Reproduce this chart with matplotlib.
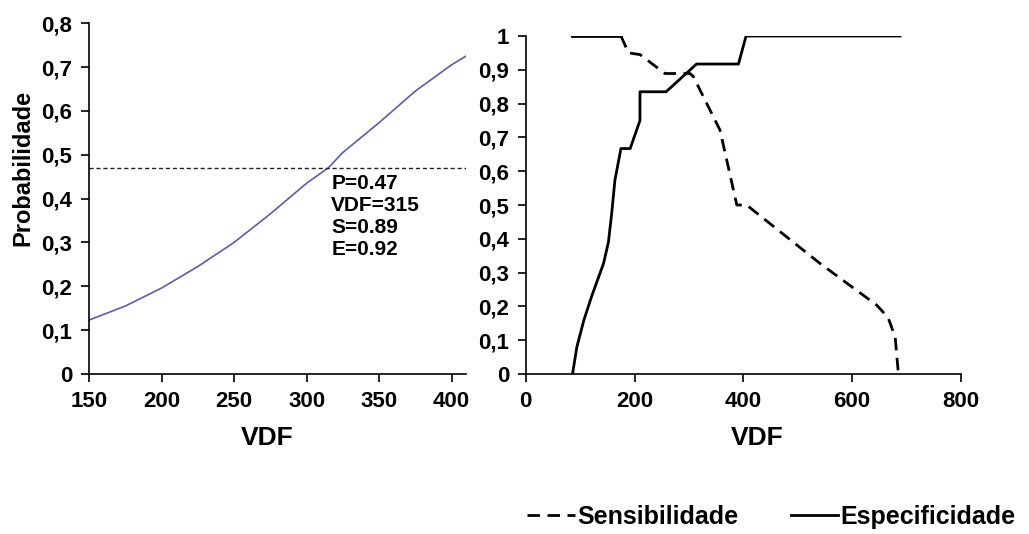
import matplotlib
matplotlib.use("Agg")
import matplotlib.pyplot as plt
from matplotlib.lines import Line2D
from matplotlib.ticker import FuncFormatter

# --- Daten ---
# links: Wahrscheinlichkeitskurve
vdf_prob = [150, 175, 200, 225, 250, 275, 300, 315, 325, 350, 375, 400, 410]
prob = [0.123, 0.155, 0.196, 0.245, 0.300, 0.365, 0.435, 0.470, 0.505, 0.573, 0.645, 0.705, 0.725]
p_cut = 0.47
info_text = "P=0.47\nVDF=315\nS=0.89\nE=0.92"

# rechts: Sensibilidade / Especificidade
vdf_sens = [85, 175, 189, 210, 256, 302, 308, 357, 388, 406, 541, 645, 666, 679, 685]
sens = [1.0, 1.0, 0.95, 0.945, 0.889, 0.889, 0.88, 0.722, 0.50, 0.50, 0.327, 0.204, 0.167, 0.11, 0.0]

vdf_spec = [86, 94, 107, 121, 143, 152, 158, 164, 175, 192, 210, 210, 258, 314, 391, 405, 688]
spec = [0.0, 0.08, 0.16, 0.229, 0.327, 0.39, 0.475, 0.574, 0.667, 0.667, 0.75, 0.835, 0.835, 0.917, 0.917, 1.0, 1.0]

plt.rcParams["font.family"] = ["Liberation Sans", "DejaVu Sans"]
plt.rcParams["font.weight"] = "bold"

fig = plt.figure(figsize=(10.29, 5.34), dpi=100)
ax1 = fig.add_axes([0.0865, 0.2996, 0.3664, 0.657])
ax2 = fig.add_axes([0.5109, 0.2996, 0.4230, 0.633])

komma = FuncFormatter(lambda v, pos: ("%g" % round(v, 2)).replace(".", ","))

for ax in (ax1, ax2):
    ax.spines["top"].set_visible(False)
    ax.spines["right"].set_visible(False)
    ax.spines["left"].set_linewidth(1.2)
    ax.spines["bottom"].set_linewidth(1.2)
    ax.tick_params(axis="both", direction="out", length=6, width=1.2, labelsize=16, pad=6)
    ax.yaxis.set_major_formatter(komma)
    for lab in ax.get_xticklabels() + ax.get_yticklabels():
        lab.set_fontweight("bold")

# --- linkes Diagramm ---
ax1.plot(vdf_prob, prob, color="#5c5ca8", lw=1.2)
ax1.axhline(p_cut, color="#222222", lw=1, dashes=(3, 2))
ax1.text(317, 0.457, info_text, fontsize=15, fontweight="bold", va="top", ha="left",
         linespacing=1.2)
ax1.set_xlim(150, 410)
ax1.set_ylim(0, 0.8)
ax1.set_xticks([150, 200, 250, 300, 350, 400])
ax1.set_yticks([0, 0.1, 0.2, 0.3, 0.4, 0.5, 0.6, 0.7, 0.8])
ax1.set_xlabel("VDF", fontsize=19, fontweight="bold", va="center")
ax1.xaxis.set_label_coords(0.473, -0.182)
ax1.set_ylabel("Probabilidade", fontsize=17, fontweight="bold", va="center")
ax1.yaxis.set_label_coords(-0.175, 0.587)

# --- rechtes Diagramm ---
# Excel startet das Strichmuster an jedem Punkt neu -> Plateau bei 1 wirkt durchgezogen
ax2.plot(vdf_sens[:2], sens[:2], color="black", lw=2)
ax2.plot(vdf_sens[1:], sens[1:], color="black", lw=2, dashes=(4.5, 2.7))
ax2.plot(vdf_spec, spec, color="black", lw=2)
ax2.set_xlim(0, 800)
ax2.set_ylim(0, 1)
ax2.set_xticks([0, 200, 400, 600, 800])
ax2.set_yticks([0, 0.1, 0.2, 0.3, 0.4, 0.5, 0.6, 0.7, 0.8, 0.9, 1.0])
ax2.set_xlabel("VDF", fontsize=19, fontweight="bold", va="center")
ax2.xaxis.set_label_coords(0.531, -0.189)

handles = [
    Line2D([], [], color="black", lw=2, dashes=(4.5, 2.7)),
    Line2D([], [], color="black", lw=2),
]
fig.legend(handles, ["Sensibilidade", "Especificidade"], loc="center left",
           bbox_to_anchor=(527 / 1029, 1 - 517 / 534), ncol=2, frameon=False,
           prop={"size": 18, "weight": "bold"}, handlelength=1.9, handletextpad=0.1,
           columnspacing=2.1, borderpad=0, borderaxespad=0)

fig.savefig("out.png", dpi=100)
